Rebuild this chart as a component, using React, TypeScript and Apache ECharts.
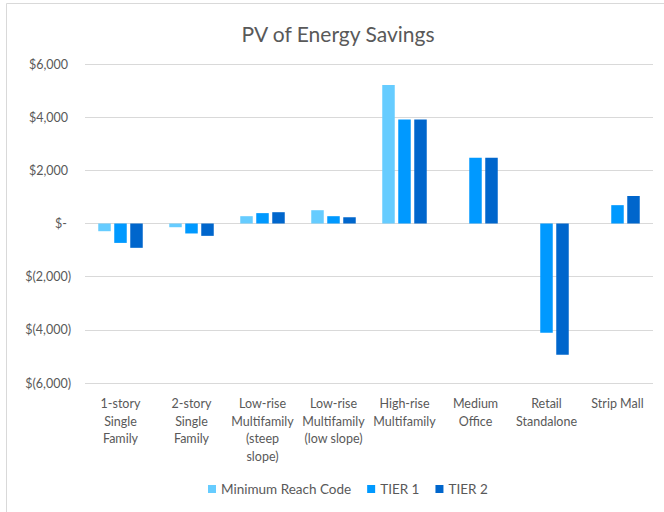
import React, { useEffect, useRef } from "react";
import * as echarts from "echarts";

const categories = [
  "1-story\nSingle\nFamily",
  "2-story\nSingle\nFamily",
  "Low-rise\nMultifamily\n(steep\nslope)",
  "Low-rise\nMultifamily\n(low slope)",
  "High-rise\nMultifamily",
  "Medium\nOffice",
  "Retail\nStandalone",
  "Strip Mall",
];
const minimumReachCode = [-290, -140, 275, 500, 5210, null, null, null];
const tier1 = [-730, -375, 390, 275, 3910, 2475, -4110, 690];
const tier2 = [-915, -465, 425, 235, 3910, 2475, -4940, 1035];
const seriesNames = ["Minimum Reach Code", "TIER 1", "TIER 2"];
const colors = ["#66CCFF", "#0099FF", "#0066CC"];

const FONT = "Lato";
const TEXT = "#595959";

function fmt(v: number): string {
  if (v === 0) return "{z|$-}";
  const s = Math.abs(v).toLocaleString("en-US");
  return v < 0 ? "{n|$(" + s + ")}" : "{p|$" + s + "}";
}

export default function App() {
  const ref = useRef<HTMLDivElement>(null);
  useEffect(() => {
    if (!ref.current) return;
    const chart = echarts.init(ref.current, undefined, { renderer: "svg" });
    const mk = (i: number, data: (number | null)[]) => ({
      name: seriesNames[i],
      type: "bar",
      data: data.map((d) => (d === null ? "-" : d)),
      barWidth: 12.5,
      barGap: "28%",
      itemStyle: { color: colors[i] },
    });
    chart.setOption({
      animation: false,
      backgroundColor: "#ffffff",
      textStyle: { fontFamily: FONT, color: TEXT },
      graphic: [
        {
          type: "rect",
          shape: { x: 6.5, y: 3.5, width: 700, height: 560 },
          style: { fill: "none", stroke: "#d9d9d9", lineWidth: 1 },
          silent: true,
          z: -1,
        },
      ],
      title: {
        text: "PV of Energy Savings",
        left: 333,
        textAlign: "center",
        top: 18,
        textStyle: { fontFamily: FONT, fontSize: 21, fontWeight: "normal", color: TEXT },
      },
      legend: {
        bottom: 11,
        left: 203,
        itemWidth: 8,
        itemHeight: 8,
        itemGap: 16,
        icon: "rect",
        textStyle: { fontFamily: FONT, fontSize: 13.5, color: TEXT },
        data: seriesNames,
      },
      grid: { left: 85, right: 11, top: 64, bottom: 129 },
      xAxis: {
        type: "category",
        data: categories,
        axisLine: { show: false, onZero: false },
        axisTick: { show: false },
        axisLabel: {
          interval: 0,
          margin: 12,
          fontFamily: FONT,
          fontSize: 12.5,
          color: TEXT,
          lineHeight: 17.5,
          align: "center",
        },
      },
      yAxis: {
        type: "value",
        min: -6000,
        max: 6000,
        interval: 2000,
        axisLine: { show: false },
        axisTick: { show: false },
        splitLine: { lineStyle: { color: "#d9d9d9", width: 1 } },
        axisLabel: {
          margin: 14,
          formatter: (v: number) => fmt(v),
          rich: {
            p: { fontFamily: FONT, fontSize: 12.5, color: TEXT, padding: [0, 3, 0, 0] },
            n: { fontFamily: FONT, fontSize: 12.5, color: TEXT },
            z: { fontFamily: FONT, fontSize: 12.5, color: TEXT, padding: [0, 4, 0, 0] },
          },
        },
      },
      series: [mk(0, minimumReachCode), mk(1, tier1), mk(2, tier2)],
    });
    return () => chart.dispose();
  }, []);
  return (
    <div
      ref={ref}
      style={{ position: "fixed", left: 0, top: 0, width: 664, height: 512 }}
    />
  );
}
